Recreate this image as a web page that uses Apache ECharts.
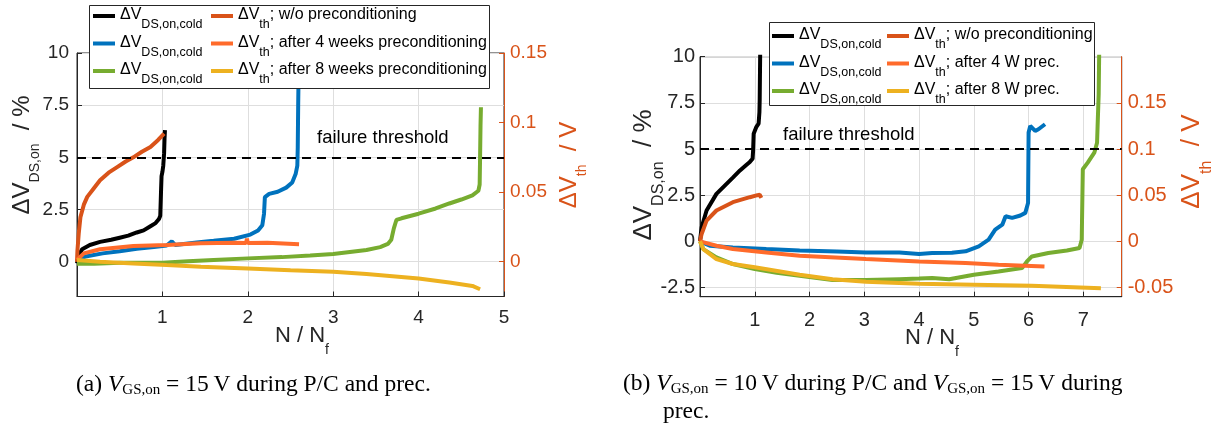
<!DOCTYPE html>
<html><head><meta charset="utf-8">
<script src="https://cdn.jsdelivr.net/npm/echarts@6/dist/echarts.min.js"></script>
<style>html,body{margin:0;padding:0;background:#fff}#c{width:1230px;height:430px}</style>
</head><body><div id="c"></div>
<script>
// ---------- DATA: chart (a) ----------  [N/Nf, value]
const a_xTicks = [0, 1, 2, 3, 4, 5];
const a_yLeftTicks = [0, 2.5, 5, 7.5, 10];
const a_yRightTicks = [0, 0.05, 0.1, 0.15];
const a_dsBlack = [[0,-0.08],[0.02,0.3],[0.06,0.6],[0.15,0.8],[0.27,0.95],[0.4,1.05],[0.5,1.15],[0.6,1.25],[0.7,1.4],[0.78,1.5],[0.86,1.7],[0.92,1.85],[0.96,2.05],[0.975,2.2],[0.985,3.5],[0.99,4.1],[1.0,4.3],[1.01,4.6],[1.02,5.2],[1.025,5.9],[1.03,6.3]];
const a_dsBlue = [[0,0.05],[0.1,0.25],[0.3,0.4],[0.5,0.5],[0.7,0.62],[0.9,0.7],[1.05,0.78],[1.11,0.98],[1.15,0.8],[1.4,0.92],[1.6,1.0],[1.84,1.1],[2.03,1.3],[2.12,1.5],[2.17,1.75],[2.19,2.3],[2.2,3.1],[2.25,3.25],[2.35,3.35],[2.45,3.55],[2.52,3.8],[2.56,4.2],[2.58,4.6],[2.585,5.5],[2.59,7.5],[2.6,10.5]];
const a_dsGreen = [[0,-0.1],[0.2,-0.1],[0.5,-0.05],[0.8,-0.05],[1.0,-0.05],[1.3,0.02],[1.6,0.08],[2.0,0.16],[2.4,0.22],[2.73,0.3],[3.0,0.37],[3.39,0.56],[3.55,0.7],[3.64,0.85],[3.68,1.05],[3.71,1.6],[3.74,2.0],[3.8,2.08],[4.0,2.3],[4.2,2.55],[4.36,2.79],[4.5,2.98],[4.63,3.18],[4.7,3.4],[4.715,3.7],[4.72,5.0],[4.725,6.5],[4.73,7.4]];
const a_thNoPrec = [[0,0],[0.005,0.008],[0.02,0.02],[0.04,0.032],[0.08,0.041],[0.12,0.0466],[0.2,0.053],[0.27,0.0585],[0.37,0.064],[0.47,0.068],[0.57,0.072],[0.66,0.075],[0.76,0.079],[0.86,0.0825],[0.95,0.0875],[1.02,0.092]];
const a_th4w = [[0,0.0012],[0.08,0.006],[0.27,0.009],[0.66,0.0113],[1.05,0.012],[1.45,0.0132],[1.84,0.0137],[1.98,0.0135],[1.99,0.0165],[2.0,0.0135],[2.23,0.0137],[2.6,0.0126]];
const a_th8w = [[0,0.0012],[0.27,0],[0.66,-0.0012],[1.05,-0.0024],[1.45,-0.0036],[2.0,-0.0048],[2.5,-0.0062],[3.0,-0.0072],[3.39,-0.0089],[4.0,-0.012],[4.36,-0.015],[4.63,-0.0174],[4.72,-0.0198]];

// ---------- DATA: chart (b) ----------
const b_xTicks = [0, 1, 2, 3, 4, 5, 6, 7];
const b_yLeftTicks = [-2.5, 0, 2.5, 5, 7.5, 10];
const b_yRightTicks = [-0.05, 0, 0.05, 0.1, 0.15];
const b_dsBlack = [[0,0],[0.03,0.76],[0.12,1.67],[0.3,2.57],[0.48,3.1],[0.6,3.45],[0.73,3.84],[0.85,4.15],[0.91,4.3],[0.96,4.47],[0.97,4.93],[0.98,5.83],[1.03,6.2],[1.07,6.38],[1.085,7.0],[1.09,7.65],[1.1,10.5]];
const b_dsBlue = [[0,0],[0.18,-0.24],[0.6,-0.33],[1.21,-0.42],[1.82,-0.5],[2.5,-0.55],[3.03,-0.6],[3.64,-0.6],[4.0,-0.69],[4.24,-0.63],[4.6,-0.62],[4.85,-0.54],[5.09,-0.27],[5.27,0.09],[5.39,0.63],[5.52,0.9],[5.58,1.36],[5.7,1.27],[5.85,1.4],[5.94,1.54],[5.99,2.08],[6.0,5.9],[6.03,6.25],[6.12,5.98],[6.18,6.07],[6.3,6.34]];
const b_dsGreen = [[0,0],[0.06,-0.42],[0.3,-0.87],[0.6,-1.23],[1.0,-1.5],[1.4,-1.7],[1.82,-1.87],[2.42,-2.1],[3.03,-2.1],[3.64,-2.05],[4.0,-2.02],[4.24,-1.99],[4.55,-2.05],[5.0,-1.81],[5.45,-1.63],[5.88,-1.45],[5.97,-1.09],[6.06,-0.82],[6.36,-0.63],[6.7,-0.5],[6.93,-0.36],[6.97,0.09],[6.99,3.9],[7.08,4.26],[7.2,4.8],[7.25,5.34],[7.26,6.25],[7.28,8],[7.29,10.5]];
const b_thNoPrec = [[0,0],[0.03,0.008],[0.12,0.0224],[0.3,0.0334],[0.6,0.0424],[0.91,0.0478],[1.05,0.05],[1.09,0.0504],[1.12,0.047]];
const b_th4w = [[0,0],[0.3,-0.0048],[0.6,-0.0084],[1.21,-0.012],[1.82,-0.0156],[3.03,-0.0192],[4.0,-0.0218],[4.85,-0.0236],[5.45,-0.0254],[6.29,-0.0272]];
const b_th8w = [[0,0],[0.06,-0.0084],[0.3,-0.0192],[0.6,-0.0246],[1.0,-0.0282],[1.82,-0.0362],[2.42,-0.041],[3.03,-0.0438],[4.0,-0.046],[5.0,-0.047],[6.06,-0.0482],[7.32,-0.0508]];

const threshold = 5;

// ---------- styling ----------
const C = {black:'#000000', blue:'#0072BD', green:'#77AC30', dorange:'#D95319', orange:'#FF6B2B', yellow:'#EDB120', axis:'#262626', grid:'#dedede'};
const SANS = 'Liberation Sans';
const SERIF = 'Liberation Serif';

const legendNames = {
  a_ds1:'{m|ΔV}{s|DS,on,cold}', a_ds2:'{m|ΔV}{s|DS,on,cold}', a_ds3:'{m|ΔV}{s|DS,on,cold}',
  a_th1:'{m|ΔV}{s|th}{m|; w/o preconditioning}', a_th2:'{m|ΔV}{s|th}{m|; after 4 weeks preconditioning}', a_th3:'{m|ΔV}{s|th}{m|; after 8 weeks preconditioning}',
  b_ds1:'{m|ΔV}{s|DS,on,cold}', b_ds2:'{m|ΔV}{s|DS,on,cold}', b_ds3:'{m|ΔV}{s|DS,on,cold}',
  b_th1:'{m|ΔV}{s|th}{m|; w/o preconditioning}', b_th2:'{m|ΔV}{s|th}{m|; after 4 W prec.}', b_th3:'{m|ΔV}{s|th}{m|; after 8 W prec.}'
};

function line(name, data, color, xi, yi, withThreshold) {
  const s = {name, type:'line', data, xAxisIndex:xi, yAxisIndex:yi, color,
    symbol:'none', showSymbol:false, clip:true, animation:false, emphasis:{disabled:true},
    lineStyle:{width:4, color}, itemStyle:{color}};
  if (withThreshold) {
    s.markLine = {silent:true, symbol:'none', animation:false, label:{show:false},
      lineStyle:{color:'#000', type:[9,6], width:2}, emphasis:{disabled:true}, data:[{yAxis:threshold}]};
  }
  return s;
}

function xAxisCfg(gi, max, ticks, fs, margin) {
  return {type:'value', gridIndex:gi, min:0, max,
    axisLine:{show:true, onZero:false, lineStyle:{color:C.axis, width:1}},
    axisTick:{show:true, inside:true, length:5, customValues:ticks, lineStyle:{color:C.axis}},
    axisLabel:{customValues:ticks.filter(v=>v!==0), fontFamily:SANS, fontSize:fs, color:C.axis, margin},
    splitLine:{show:true, lineStyle:{color:C.grid, width:1}}};
}
function yAxisCfg(gi, pos, min, max, ticks, fs, margin, color, split) {
  return {type:'value', gridIndex:gi, position:pos, min, max,
    axisLine:{show:true, onZero:false, lineStyle:{color, width:1}},
    axisTick:{show:true, inside:true, length:5, customValues:ticks, lineStyle:{color}},
    axisLabel:{customValues:ticks, fontFamily:SANS, fontSize:fs, color, margin},
    splitLine:{show:split, lineStyle:{color:C.grid, width:1}}};
}

const legRich = {
  m:{fontFamily:SANS, fontSize:16, lineHeight:18, verticalAlign:'top', color:'#000'},
  s:{fontFamily:SANS, fontSize:12.5, lineHeight:12, padding:[11.5,0,0,0], verticalAlign:'top', color:'#000'}
};
function legend(left, top, data) {
  return {orient:'vertical', left, top, padding:0, itemGap:3, itemWidth:22, itemHeight:4, icon:'rect',
    selectedMode:false, z:6, data, formatter:(n)=>legendNames[n],
    textStyle:{fontFamily:SANS, fontSize:16, color:'#000', rich:legRich}};
}

function titleRich(mf, sf, pad, color) {
  return {
    m:{fontFamily:SANS, fontSize:mf, lineHeight:mf+2, verticalAlign:'top', fill:color},
    s:{fontFamily:SANS, fontSize:sf, lineHeight:sf, padding:[pad,0,0,0], verticalAlign:'top', fill:color}
  };
}
const capRich = {
  n:{fontFamily:SERIF, fontSize:23.5, lineHeight:25, verticalAlign:'top', fill:'#000'},
  i:{fontFamily:SERIF, fontSize:23.5, fontStyle:'italic', lineHeight:25, verticalAlign:'top', fill:'#000'},
  g:{fontFamily:SERIF, fontSize:15, lineHeight:15, padding:[10,0,0,0], verticalAlign:'top', fill:'#000'}
};

function vText(x, y, text, rich) {
  return {type:'text', x, y, rotation:Math.PI/2, z:10,
    style:{text, rich, align:'center', verticalAlign:'middle', textAlign:'center', textVerticalAlign:'middle'}};
}
function hText(x, y, text, rich, align) {
  return {type:'text', x, y, z:10,
    style:{text, rich, align:align||'left', verticalAlign:'top', textAlign:align||'left', textVerticalAlign:'top'}};
}

const option = {
  animation:false,
  backgroundColor:'#fff',
  grid:[
    {left:77, right:726, top:53, bottom:133.5, show:true, borderColor:C.axis, borderWidth:1, backgroundColor:'transparent'},
    {left:700, right:108.3, top:56.7, bottom:133.3, show:true, borderColor:C.axis, borderWidth:1, backgroundColor:'transparent'}
  ],
  xAxis:[ xAxisCfg(0, 5, a_xTicks, 19, 12), xAxisCfg(1, 7.7, b_xTicks, 20, 14) ],
  yAxis:[
    yAxisCfg(0, 'left', -1.6667, 10, a_yLeftTicks, 19, 8, C.axis, true),
    yAxisCfg(0, 'right', -0.025, 0.15, a_yRightTicks, 19, 6, C.dorange, false),
    yAxisCfg(1, 'left', -3, 10, b_yLeftTicks, 20, 5, C.axis, true),
    yAxisCfg(1, 'right', -0.06, 0.2, b_yRightTicks, 20, 6, C.dorange, false)
  ],
  legend:[
    legend(93, 7, ['a_ds1','a_ds2','a_ds3']),
    legend(211, 7, ['a_th1','a_th2','a_th3']),
    legend(772, 27, ['b_ds1','b_ds2','b_ds3']),
    legend(887, 27, ['b_th1','b_th2','b_th3'])
  ],
  series:[
    line('a_ds1', a_dsBlack, C.black, 0, 0, true),
    line('a_ds2', a_dsBlue, C.blue, 0, 0),
    line('a_ds3', a_dsGreen, C.green, 0, 0),
    line('a_th1', a_thNoPrec, C.dorange, 0, 1),
    line('a_th2', a_th4w, C.orange, 0, 1),
    line('a_th3', a_th8w, C.yellow, 0, 1),
    line('b_ds1', b_dsBlack, C.black, 1, 2, true),
    line('b_ds2', b_dsBlue, C.blue, 1, 2),
    line('b_ds3', b_dsGreen, C.green, 1, 2),
    line('b_th1', b_thNoPrec, C.dorange, 1, 3),
    line('b_th2', b_th4w, C.orange, 1, 3),
    line('b_th3', b_th8w, C.yellow, 1, 3)
  ],
  graphic:[
    {type:'rect', z:5, shape:{x:89.5, y:5.5, width:400, height:83}, style:{fill:'#fff', stroke:C.axis, lineWidth:1}},
    {type:'rect', z:5, shape:{x:769.5, y:22.5, width:325, height:83}, style:{fill:'#fff', stroke:C.axis, lineWidth:1}},
    vText(23.5, 155, '{m|ΔV}{s|DS,on}{m|  / %}', titleRich(24, 14, 18, C.axis)),
    vText(570, 165, '{m|ΔV}{s|th}{m|  / V}', titleRich(24, 14, 18, C.dorange)),
    vText(645, 175, '{m|ΔV}{s|DS,on}{m|  / %}', titleRich(26, 16, 20, C.axis)),
    vText(1192.5, 161.5, '{m|ΔV}{s|th}{m|  / V}', titleRich(26, 16, 20, C.dorange)),
    hText(302, 324.5, '{m|N / N}{s|f}', titleRich(22, 14, 19, C.axis), 'center'),
    hText(932, 326.5, '{m|N / N}{s|f}', titleRich(22, 14, 19, C.axis), 'center'),
    {type:'text', x:317, y:138, z:10, style:{text:'failure threshold', fontFamily:SANS, fontSize:18.5, fill:'#000', verticalAlign:'middle', textVerticalAlign:'middle'}},
    {type:'text', x:783, y:135, z:10, style:{text:'failure threshold', fontFamily:SANS, fontSize:18.5, fill:'#000', verticalAlign:'middle', textVerticalAlign:'middle'}},
    hText(76, 373, '{n|(a) }{i|V}{g|GS,on}{n| = 15\u2009V during P/C and prec.}', capRich),
    hText(623, 372, '{n|(b) }{i|V}{g|GS,on}{n| = 10\u2009V during P/C and }{i|V}{g|GS,on}{n| = 15\u2009V during}', capRich),
    hText(663, 400, '{n|prec.}', capRich)
  ]
};

const chart = echarts.init(document.getElementById('c'), null, {renderer:'canvas'});
chart.setOption(option);
</script></body></html>
